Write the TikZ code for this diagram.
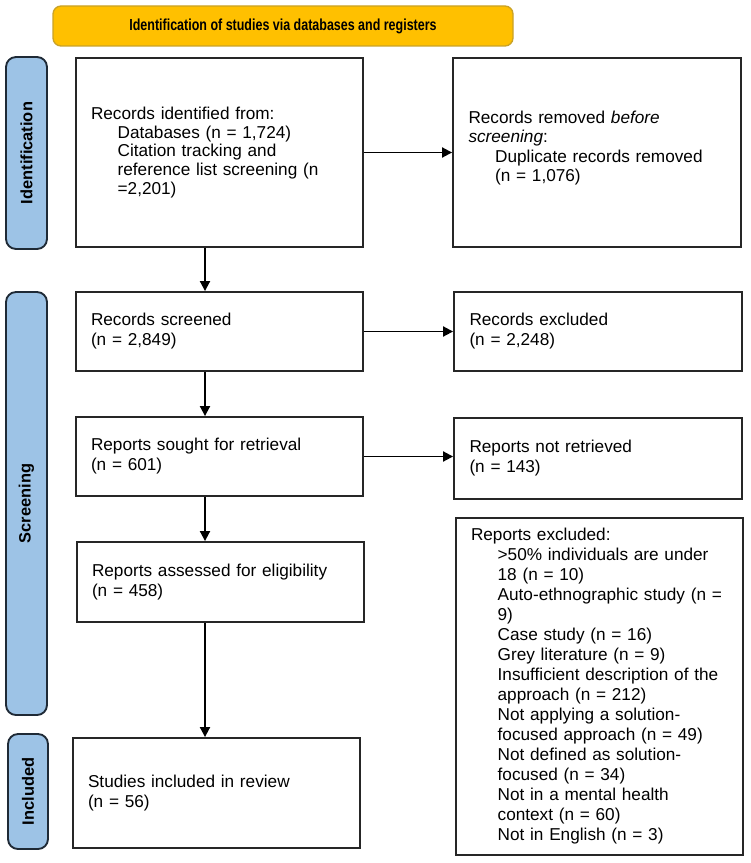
\documentclass[tikz,border=0pt]{standalone}
\usepackage{fontspec}
\usepackage{graphicx}
\setmainfont{Liberation Sans}
\usetikzlibrary{arrows.meta}
\definecolor{titlefill}{HTML}{FFC000}
\definecolor{titledraw}{HTML}{C9A227}
\definecolor{barfill}{HTML}{9DC3E6}
\definecolor{bardraw}{HTML}{1F2A36}
\definecolor{boxdraw}{HTML}{262626}
\newcommand\ind{\hspace*{20pt}}
\tikzset{
  x=0.75pt, y=-0.75pt,
  box/.style={draw=boxdraw, line width=1.4pt, fill=white, rectangle, inner xsep=11.25pt, inner ysep=0pt,
    text width=192.75pt, align=left, font=\fontsize{12.9pt}{15pt}\selectfont},
  bar/.style={draw=bardraw, line width=1.4pt, fill=barfill, rounded corners=7.5pt, inner sep=0pt},
  barlabel/.style={rotate=90, font=\fontsize{12.3pt}{14pt}\selectfont\bfseries, inner sep=0pt},
  arr/.style={line width=1.4pt, -{Triangle[length=7.5pt,width=7.5pt]}},
}
\begin{document}
\begin{tikzpicture}
\useasboundingbox (0,0) rectangle (750,863);
% title
\node[draw=titledraw, line width=1pt, fill=titlefill, rounded corners=6pt, minimum width=345pt, minimum height=30pt, inner sep=0pt] (title) at (283,26)
  {\scalebox{0.78}[1]{\fontsize{12pt}{13pt}\selectfont\bfseries Identification of studies via databases and registers}};
% side bars
\node[bar, minimum width=30.75pt, minimum height=144pt] (idbar) at (26.5,153) {};
\node[barlabel] (idlab) at (idbar.center) {Identification};
\node[bar, minimum width=30.75pt, minimum height=317.25pt] (scbar) at (26.5,503.5) {};
\node[barlabel] (sclab) at (scbar.center) {Screening};
\node[bar, minimum width=30pt, minimum height=86.25pt] (inbar) at (28,791.5) {};
\node[barlabel] (inlab) at (inbar.center) {Included};
% boxes
\node[box, minimum width=215.25pt, minimum height=141.75pt, font=\fontsize{12.9pt}{14.2pt}\selectfont] (ident) at (219.5,152.5)
  {Records identified from:\\
   \ind Databases (n = 1,724)\\
   \ind Citation tracking and\\
   \ind reference list screening (n\\
   \ind =2,201)};
\node[box, minimum width=216pt, minimum height=141.75pt, font=\fontsize{12.9pt}{14.5pt}\selectfont] (removed) at (597,152.5)
  {Records removed \textit{before}\\
   \textit{screening}:\\
   \ind Duplicate records removed\\
   \ind (n = 1,076)\\[-5pt]
   \mbox{}};
\node[box, minimum width=215.25pt, minimum height=59.25pt] (screened) at (219.5,331.5)
  {Records screened\\(n = 2,849)};
\node[box, minimum width=216pt, minimum height=59.25pt] (excluded) at (598,331.5)
  {Records excluded\\(n = 2,248)};
\node[box, minimum width=215.25pt, minimum height=59.25pt] (sought) at (219.5,456.5)
  {Reports sought for retrieval\\(n = 601)};
\node[box, minimum width=216pt, minimum height=60.75pt] (notret) at (598,458.5)
  {Reports not retrieved\\(n = 143)};
\node[box, minimum width=215.25pt, minimum height=60pt] (assessed) at (220.5,582)
  {Reports assessed for eligibility\\(n = 458)};
\node[box, minimum width=215.25pt, minimum height=252.75pt] (repexc) at (599.5,686.5)
  {Reports excluded:\\
   \ind >50\% individuals are under\\
   \ind 18 (n = 10)\\
   \ind Auto-ethnographic study (n =\\
   \ind 9)\\
   \ind Case study (n = 16)\\
   \ind Grey literature (n = 9)\\
   \ind Insufficient description of the\\
   \ind approach (n = 212)\\
   \ind Not applying a solution-\\
   \ind focused approach (n = 49)\\
   \ind Not defined as solution-\\
   \ind focused (n = 34)\\
   \ind Not in a mental health\\
   \ind context (n = 60)\\
   \ind Not in English (n = 3)};
\node[box, minimum width=215.25pt, minimum height=82.5pt] (included) at (216.5,793)
  {Studies included in review\\(n = 56)};
% arrows
\coordinate (ax) at (205,0);
\draw[arr] (ident.south -| ax) -- (screened.north -| ax);
\draw[arr] (screened.south -| ax) -- (sought.north -| ax);
\draw[arr] (sought.south -| ax) -- (assessed.north -| ax);
\draw[arr] (assessed.south -| ax) -- (included.north -| ax);
\draw[arr] (ident.east) -- (removed.west);
\draw[arr] (screened.east) -- (screened.east -| excluded.west);
\draw[arr] (sought.east) -- (sought.east -| notret.west);
\end{tikzpicture}
\end{document}
